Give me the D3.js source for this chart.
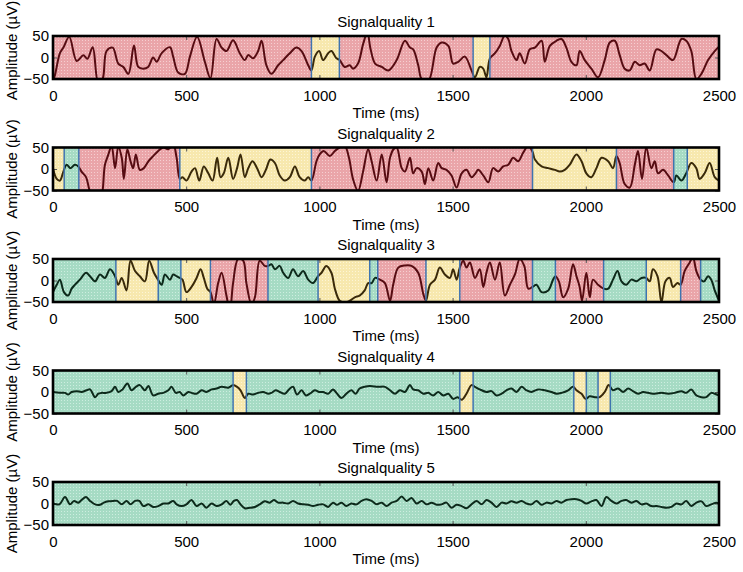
<!DOCTYPE html>
<html><head><meta charset="utf-8">
<script src="https://cdn.jsdelivr.net/npm/d3@7"></script>
<style>
body{margin:0;background:#fff}
svg{display:block}
text{font-family:"Liberation Sans",Arial,Helvetica,sans-serif;fill:#000}
</style>
</head><body>
<svg id="chart" width="743" height="572"></svg>
<script>
// ---------- DATA ----------
const titles = ["Signalquality 1","Signalquality 2","Signalquality 3","Signalquality 4","Signalquality 5"];
const xLabel = "Time (ms)";
const yLabel = "Amplitude (µV)";
const xTicks = [0,500,1000,1500,2000,2500];
const yTicks = [-50,0,50];

const sq1Time = [0,7,26,39,61,89,114,129,149,170,186,201,224,245,264,283,304,320,339,357,376,389,408,439,451,470,495,514,541,570,591,614,633,651,676,701,720,733,751,770,783,801,820,845,864,889,914,933,958,970,983,999,1014,1033,1045,1064,1076,1095,1114,1126,1145,1164,1180,1192,1209,1234,1259,1290,1321,1340,1352,1371,1384,1409,1440,1459,1484,1502,1521,1546,1571,1584,1602,1615,1627,1640,1659,1677,1696,1709,1721,1740,1752,1771,1790,1809,1834,1846,1865,1890,1909,1927,1946,1965,1977,1996,2021,2046,2071,2090,2109,2127,2146,2165,2184,2202,2221,2240,2265,2284,2302,2327,2359,2377,2396,2415,2434,2459,2484,2500];
const sq1Amp = [-55,-42,10,23,48,-8,5,-3,24,-58,-50,15,23,-14,-22,-38,28,-22,-26,-22,0,-10,10,24,2,-35,-38,2,48,-10,-48,43,23,15,40,10,-6,6,-2,15,39,-18,-38,-18,-6,10,23,15,-18,-30,2,15,-6,10,15,-2,-6,-22,-18,-26,-14,31,58,20,-14,-22,-30,-6,39,23,19,-18,-50,-54,23,35,27,-14,-10,2,-30,-46,-22,-26,-46,-2,10,27,51,43,15,-6,10,-14,19,23,39,-10,27,39,43,23,-10,-18,15,-6,-26,-46,-6,35,39,6,-26,-30,-10,-18,-14,-30,19,15,6,-6,43,39,15,-50,-38,-6,15,25];
const sq1Bounds = [0,970,1075,1577,1640,2500];
const sq1Quality = ["bad","medium","bad","medium","bad"];

const sq2Time = [0,14,26,39,51,66,82,95,107,124,136,151,176,195,208,220,233,245,258,266,279,291,301,311,326,341,358,376,395,414,433,451,464,476,486,501,520,533,549,566,583,599,616,629,641,658,676,691,704,720,733,749,766,783,799,816,833,851,870,889,908,926,945,958,970,989,1001,1016,1039,1058,1076,1095,1111,1126,1145,1164,1183,1196,1215,1234,1252,1265,1278,1290,1309,1321,1340,1352,1365,1384,1396,1409,1427,1446,1459,1477,1496,1515,1534,1552,1571,1586,1596,1615,1634,1652,1671,1690,1709,1727,1746,1765,1784,1800,1809,1834,1859,1884,1902,1921,1940,1965,1984,2002,2021,2040,2059,2084,2102,2115,2127,2146,2165,2184,2196,2211,2227,2246,2259,2271,2290,2309,2330,2340,2359,2377,2396,2415,2427,2446,2465,2484,2500];
const sq2Amp = [2,-23,-27,-6,10,2,10,6,-6,-19,-47,-75,-75,10,34,54,2,52,26,-23,46,18,2,34,-2,2,18,30,42,50,46,58,26,-23,-19,-27,-6,2,-27,6,-10,-27,26,-19,-10,26,-23,2,34,-19,2,18,2,-19,-2,22,14,-15,-27,-19,6,-19,-27,-19,-27,18,34,42,30,42,50,54,26,-23,-51,-6,46,18,-27,34,-31,26,46,50,2,-6,26,-10,2,-6,-35,2,-27,14,2,-2,-15,-43,-10,-2,-19,-10,-2,-15,-31,2,-6,6,10,26,18,38,54,40,22,6,2,-2,-6,-2,10,34,18,-10,-19,2,26,18,2,30,14,-35,-43,10,42,-23,50,2,18,-10,-2,-15,-31,-15,-27,-10,14,2,-23,-10,14,-19,-27];
const sq2Bounds = [0,42,97,476,970,1800,2115,2330,2381,2500];
const sq2Quality = ["medium","good","bad","medium","bad","medium","bad","good","medium"];

const sq3Time = [0,14,26,41,57,70,82,101,124,139,158,176,195,214,233,245,258,276,291,308,326,345,361,379,394,408,420,439,451,464,476,486,501,520,539,554,566,579,591,604,620,633,651,664,676,695,714,726,745,758,776,795,808,820,833,851,864,883,901,920,939,958,976,995,1008,1026,1045,1058,1076,1095,1114,1133,1151,1170,1183,1196,1209,1227,1246,1265,1277,1296,1321,1346,1371,1390,1400,1415,1434,1452,1471,1490,1502,1515,1527,1540,1552,1565,1584,1602,1615,1627,1640,1659,1677,1696,1715,1734,1752,1769,1784,1800,1815,1834,1859,1877,1886,1899,1915,1934,1952,1965,1977,1986,2002,2015,2027,2046,2067,2084,2102,2119,2134,2152,2171,2190,2209,2227,2240,2252,2269,2284,2299,2315,2327,2344,2356,2371,2390,2402,2415,2431,2444,2459,2471,2484,2500];
const sq3Amp = [-27,-10,2,-27,-35,-19,-10,2,18,10,-2,14,6,26,10,-10,6,-23,46,22,10,-2,46,18,2,-10,14,2,14,10,6,2,-27,-15,6,26,6,-19,-27,-55,-6,18,-35,-71,-6,50,46,-6,-55,-39,46,34,34,38,26,34,18,6,26,10,22,2,-6,10,18,34,18,-19,-47,-51,-47,-39,-35,-23,-6,-6,6,2,-6,-47,-10,30,35,34,18,-31,-47,-10,2,30,14,6,26,2,30,46,30,42,6,26,-15,18,42,2,42,-35,-10,14,50,34,-19,-15,-10,-27,-23,2,10,-2,-39,-19,38,10,-15,-47,18,-39,2,-10,-19,-19,2,22,-2,-10,2,-2,6,6,-2,26,10,-51,-2,6,-15,-6,-10,22,42,54,22,2,-2,10,2,-23,-47];
const sq3Bounds = [0,236,395,480,591,807,995,1189,1219,1400,1527,1800,1886,2067,2227,2356,2431,2500];
const sq3Quality = ["good","medium","good","medium","bad","good","medium","good","bad","medium","bad","good","bad","good","medium","bad","good"];

const sq4Time = [0,26,45,57,70,89,107,126,139,158,170,183,201,220,233,245,261,279,295,311,326,345,358,376,395,414,433,445,461,476,489,508,520,539,558,576,595,614,633,658,676,691,704,720,733,751,770,789,808,820,836,851,870,886,901,916,933,949,964,983,999,1014,1033,1051,1064,1083,1101,1120,1136,1151,1170,1189,1221,1246,1265,1284,1302,1321,1340,1352,1371,1390,1409,1427,1446,1465,1484,1502,1519,1534,1552,1571,1584,1602,1627,1646,1665,1684,1702,1721,1740,1759,1777,1796,1821,1846,1871,1890,1909,1934,1952,1965,1984,1999,2015,2034,2052,2071,2086,2102,2121,2140,2159,2177,2196,2215,2234,2259,2284,2309,2334,2359,2377,2396,2415,2434,2452,2471,2484,2500];
const sq4Amp = [0,-2,-2,-6,0,2,0,4,6,-12,-4,-2,-2,2,12,0,6,20,4,12,16,4,14,-8,-4,-2,4,12,-2,0,-8,0,-2,-4,4,0,6,8,12,10,16,12,4,-14,-4,-6,-2,0,-4,-2,4,0,-4,6,12,-6,4,-8,-4,4,0,0,-4,6,-2,-14,-4,4,-4,8,12,14,12,12,4,-4,4,0,16,6,4,-4,-2,-8,0,-8,-4,-16,-12,-18,-4,16,12,6,0,2,-8,-4,4,8,0,12,4,0,6,4,0,-4,-2,4,12,4,-4,-16,-10,-12,-12,0,16,4,8,0,8,2,-4,0,-2,-4,-2,-4,-2,2,-2,6,-8,-12,-12,-2,-4,-8];
const sq4Bounds = [0,676,726,1527,1577,1955,2002,2046,2092,2500];
const sq4Quality = ["good","medium","good","medium","good","medium","good","medium","good"];

const sq5Time = [0,24,45,64,79,95,107,124,139,158,176,191,208,226,241,258,276,291,308,324,339,358,376,395,414,433,451,464,483,501,520,539,558,576,595,614,633,651,666,679,691,704,720,739,758,776,795,814,829,845,864,883,901,920,939,958,976,995,1014,1033,1051,1066,1083,1101,1120,1139,1158,1176,1196,1215,1234,1252,1271,1290,1309,1327,1346,1365,1384,1402,1421,1440,1459,1477,1496,1515,1534,1552,1571,1590,1609,1627,1646,1665,1684,1702,1721,1740,1759,1777,1796,1815,1834,1852,1871,1890,1909,1927,1946,1965,1984,2002,2021,2040,2059,2077,2096,2115,2134,2152,2171,2190,2209,2227,2246,2265,2284,2302,2321,2340,2359,2377,2396,2415,2434,2452,2471,2490,2500];
const sq5Amp = [0,-2,15,-2,6,2,8,15,6,-2,-3,2,5,6,6,-2,6,-2,6,6,-6,-2,-8,-6,0,0,6,-2,-6,-2,8,-6,0,-10,0,-6,-2,6,-3,6,8,-2,-11,-10,-8,-2,5,2,8,2,2,0,6,0,-2,-3,-6,-3,-2,-8,2,-3,2,-6,0,-2,6,10,6,-2,2,-6,2,6,16,6,13,0,6,-2,2,-3,-2,2,-10,-3,-6,-11,-2,6,-2,8,2,-8,2,0,5,2,6,0,-2,6,-3,2,0,6,2,8,10,10,6,0,5,8,-6,15,6,0,6,8,2,6,-2,0,-6,-6,-8,-10,-8,0,-2,6,-6,2,5,-6,-2,2,0];
const sq5Bounds = [0,2500];
const sq5Quality = ["good"];

// ---------- BUILD ----------
const panels = [
  {time:sq1Time, amp:sq1Amp, bounds:sq1Bounds, quality:sq1Quality},
  {time:sq2Time, amp:sq2Amp, bounds:sq2Bounds, quality:sq2Quality},
  {time:sq3Time, amp:sq3Amp, bounds:sq3Bounds, quality:sq3Quality},
  {time:sq4Time, amp:sq4Amp, bounds:sq4Bounds, quality:sq4Quality},
  {time:sq5Time, amp:sq5Amp, bounds:sq5Bounds, quality:sq5Quality}
];

const svg = d3.select("#chart");
const defs = svg.append("defs");
const left = 53, right = 719, top0 = 36, step = 111.5, ph = 43;
const fillCol = {bad:"#eaa5a9", medium:"#f7e8ae", good:"#a6dbc4"};
const dotCol  = {bad:"#f6cfd1", medium:"#fdf5d6", good:"#cdeee0"};
const lineCol = {bad:"#560c12", medium:"#3a2a0a", good:"#0d2a1b"};

Object.keys(fillCol).forEach(q=>{
  const pat = defs.append("pattern").attr("id","pat-"+q).attr("patternUnits","userSpaceOnUse")
    .attr("width",3).attr("height",3);
  pat.append("rect").attr("width",3).attr("height",3).attr("fill",fillCol[q]);
  pat.append("rect").attr("x",1).attr("y",1).attr("width",1).attr("height",1).attr("fill",dotCol[q]);
});

const x = d3.scaleLinear().domain([0,2500]).range([left,right]);

panels.forEach((p,i)=>{
  const top = top0 + i*step;
  const bottom = top + ph;
  const y = d3.scaleLinear().domain([-50,50]).range([bottom, top]);
  const g = svg.append("g");
  const pts = d3.range(Math.min(p.time.length,p.amp.length)).map(k=>[p.time[k],p.amp[k]]);
  const line = d3.line().x(d=>x(d[0])).y(d=>y(d[1])).curve(d3.curveCatmullRom.alpha(0.5));
  const segs = d3.range(p.quality.length).map(k=>({a:p.bounds[k], b:p.bounds[k+1], q:p.quality[k]}));

  // backgrounds
  g.selectAll("rect.seg").data(segs).join("rect").attr("class","seg")
    .attr("x",d=>x(d.a)).attr("y",top).attr("width",d=>x(d.b)-x(d.a)).attr("height",ph)
    .attr("fill",d=>"url(#pat-"+d.q+")");

  // ticks inward
  g.append("g").attr("transform",`translate(0,${bottom})`)
    .call(d3.axisBottom(x).tickValues(xTicks).tickSize(-4).tickFormat(""))
    .call(a=>{a.select(".domain").remove(); a.selectAll("line").attr("stroke","#555");});
  g.append("g").attr("transform",`translate(0,${top})`)
    .call(d3.axisTop(x).tickValues(xTicks).tickSize(-4).tickFormat(""))
    .call(a=>{a.select(".domain").remove(); a.selectAll("line").attr("stroke","#555");});
  g.append("g").attr("transform",`translate(${left},0)`)
    .call(d3.axisLeft(y).tickValues(yTicks).tickSize(-4).tickFormat(""))
    .call(a=>{a.select(".domain").remove(); a.selectAll("line").attr("stroke","#555");});
  g.append("g").attr("transform",`translate(${right},0)`)
    .call(d3.axisRight(y).tickValues(yTicks).tickSize(-4).tickFormat(""))
    .call(a=>{a.select(".domain").remove(); a.selectAll("line").attr("stroke","#555");});

  // signal, coloured per segment
  segs.forEach((s,k)=>{
    const cid = `clip-${i}-${k}`;
    defs.append("clipPath").attr("id",cid).append("rect")
      .attr("x",x(s.a)).attr("y",top).attr("width",x(s.b)-x(s.a)).attr("height",ph);
    g.append("path").datum(pts).attr("clip-path",`url(#${cid})`)
      .attr("d",line).attr("fill","none").attr("stroke",lineCol[s.q])
      .attr("stroke-width",2).attr("stroke-linejoin","round");
  });

  // segment boundaries
  g.selectAll("line.bnd").data(segs.slice(1)).join("line").attr("class","bnd")
    .attr("x1",d=>x(d.a)).attr("x2",d=>x(d.a)).attr("y1",top).attr("y2",bottom)
    .attr("stroke","#3f74b0").attr("stroke-width",1.5);

  // frame
  g.append("rect").attr("x",left).attr("y",top).attr("width",right-left).attr("height",ph)
    .attr("fill","none").attr("stroke","#000").attr("stroke-width",2.6);

  // tick labels
  g.append("g").attr("transform",`translate(0,${bottom})`)
    .call(d3.axisBottom(x).tickValues(xTicks).tickSize(0).tickPadding(11).tickFormat(d3.format("d")))
    .call(a=>{a.select(".domain").remove(); a.selectAll("text").style("font-size","15px").attr("fill","#000");});
  g.append("g").attr("transform",`translate(${left},0)`)
    .call(d3.axisLeft(y).tickValues(yTicks).tickSize(0).tickPadding(4).tickFormat(d3.format("d")))
    .call(a=>{a.select(".domain").remove(); a.selectAll("text").style("font-size","15px").attr("fill","#000");});

  // titles and axis labels
  g.append("text").attr("x",(left+right)/2).attr("y",top-9).attr("text-anchor","middle")
    .style("font-size","15px").text(titles[i]);
  g.append("text").attr("x",(left+right)/2).attr("y",bottom+39).attr("text-anchor","middle")
    .style("font-size","15px").text(xLabel);
  const cy = i===0 ? (top+bottom)/2 - 7 : (top+bottom)/2;
  g.append("text").attr("transform",`translate(17,${cy}) rotate(-90)`).attr("text-anchor","middle")
    .style("font-size","15px").text(yLabel);
});
</script>
</body></html>
